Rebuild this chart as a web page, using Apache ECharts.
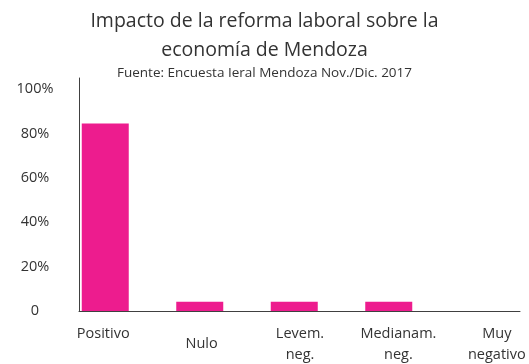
<!DOCTYPE html>
<html>
<head>
<meta charset="utf-8">
<script src="https://cdn.jsdelivr.net/npm/echarts@6/dist/echarts.min.js"></script>
<style>
  html, body { margin: 0; padding: 0; background: #fff; }
  #chart { width: 529px; height: 364px; }
</style>
</head>
<body>
<div id="chart"></div>
<script>
// data
const categories = ['Positivo', 'Nulo', 'Levem.\nneg.', 'Medianam.\nneg.', 'Muy\nnegativo']
const shares = [0.845, 0.042, 0.042, 0.042, 0]
const yTicks = [0, 0.2, 0.4, 0.6, 0.8, 1.0]

const textColor = '#333333'
const barColor = '#ED1C8E'
const font = 'Open Sans'

const chart = echarts.init(document.getElementById('chart'))

const yMax = 1.05
const gridTop = 78
const gridBottom = 53

chart.setOption({
  animation: false,
  title: [
    {
      text: 'Impacto de la reforma laboral sobre la\neconomía de Mendoza',
      left: 'center',
      top: 2,
      textStyle: { fontFamily: font, fontSize: 19.5, fontWeight: 'normal', color: textColor, lineHeight: 29 }
    },
    {
      text: 'Fuente: Encuesta Ieral Mendoza Nov./Dic. 2017',
      left: 'center',
      top: 61,
      textStyle: { fontFamily: font, fontSize: 13.5, fontWeight: 'normal', color: textColor }
    }
  ],
  grid: [
    // axes frame
    { left: 79, right: 9, top: gridTop, bottom: gridBottom, outerBoundsMode: 'none' },
    // bars
    { left: 58, width: 472.5, top: gridTop, bottom: gridBottom, outerBoundsMode: 'none' },
    // category labels
    { left: 54, width: 492, top: gridTop, bottom: gridBottom, outerBoundsMode: 'none' }
  ],
  xAxis: [
    {
      gridIndex: 0, type: 'category', data: categories,
      axisLine: { lineStyle: { color: '#404040', width: 1 } },
      axisTick: { show: false }, axisLabel: { show: false }
    },
    {
      gridIndex: 1, type: 'category', data: categories,
      axisLine: { show: false }, axisTick: { show: false }, axisLabel: { show: false }
    },
    {
      gridIndex: 2, type: 'category', data: categories,
      axisLine: { show: false }, axisTick: { show: false },
      axisLabel: {
        margin: 12,
        interval: 0,
        hideOverlap: false,
        verticalAlign: 'top',
        fontFamily: font, fontSize: 14.5, color: textColor, lineHeight: 21,
        formatter: (v) => v === 'Nulo' ? '{lo|' + v + '}' : v,
        rich: { lo: { fontFamily: font, fontSize: 14.5, color: textColor, lineHeight: 21, padding: [21, 0, 0, 0] } }
      }
    }
  ],
  yAxis: [
    {
      gridIndex: 0, type: 'value', min: 0, max: yMax, interval: 0.2,
      axisLine: { show: true, lineStyle: { color: '#404040', width: 1 } },
      axisTick: { show: false }, splitLine: { show: false },
      axisLabel: {
        showMaxLabel: false,
        align: 'center', margin: 44,
        fontFamily: font, fontSize: 14.5, color: textColor,
        formatter: (v) => {
          if (!yTicks.some(t => Math.abs(t - v) < 1e-6)) return ''
          return v === 0 ? '0' : Math.round(v * 100) + '%'
        }
      }
    },
    { gridIndex: 1, type: 'value', min: 0, max: yMax, show: false },
    { gridIndex: 2, type: 'value', min: 0, max: yMax, show: false }
  ],
  series: [
    {
      type: 'bar', xAxisIndex: 1, yAxisIndex: 1,
      data: shares, barWidth: 47,
      itemStyle: { color: barColor }
    }
  ]
})
</script>
</body>
</html>
